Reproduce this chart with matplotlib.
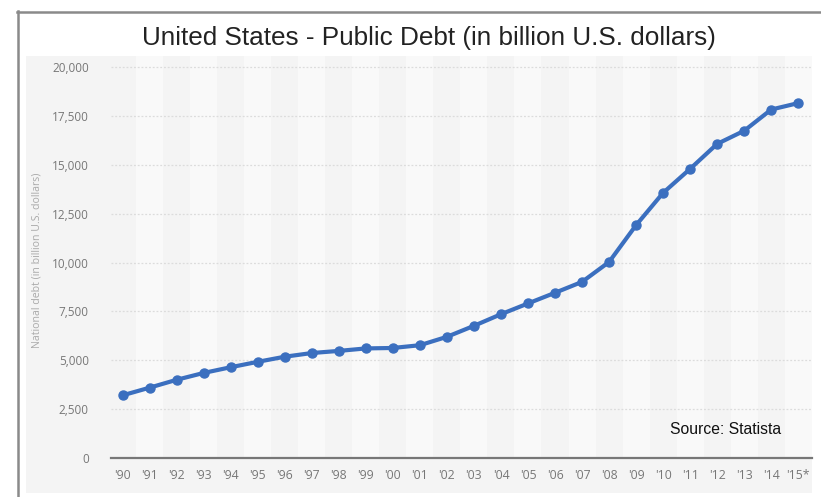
import matplotlib
matplotlib.use("Agg")
import matplotlib.pyplot as plt
from matplotlib.patches import Rectangle
from matplotlib.lines import Line2D
from matplotlib.ticker import FuncFormatter

years = ["'90", "'91", "'92", "'93", "'94", "'95", "'96", "'97", "'98", "'99",
         "'00", "'01", "'02", "'03", "'04", "'05", "'06", "'07", "'08", "'09",
         "'10", "'11", "'12", "'13", "'14", "'15*"]
debt = [3206, 3598, 4001, 4351, 4643, 4920, 5181, 5369, 5478, 5605,
        5628, 5769, 6198, 6760, 7354, 7905, 8451, 9008, 10025, 11910,
        13562, 14790, 16066, 16738, 17824, 18153]
yticks = [0, 2500, 5000, 7500, 10000, 12500, 15000, 17500, 20000]

W, H = 821, 497
fig = plt.figure(figsize=(W / 100, H / 100), dpi=100)
fig.patch.set_facecolor("white")

def fx(px):
    return px / W

def fy(py):
    return 1 - py / H

# frame lines
fig.add_artist(Line2D([fx(18), fx(18)], [fy(11), fy(497)], color="#8a8a8a", lw=1.8))
fig.add_artist(Line2D([fx(17), fx(821)], [fy(12), fy(12)], color="#8a8a8a", lw=1.8))
# panel background
fig.add_artist(Rectangle((fx(26), fy(493)), fx(812) - fx(26), fy(56) - fy(493),
                         transform=fig.transFigure, facecolor="#f4f4f4", edgecolor="none", zorder=0))

ax_left, ax_right, ax_bot, ax_top = 111, 812, 458, 56
ymax = 20000 * (458 - 56) / (458 - 67)
ax = fig.add_axes([fx(ax_left), fy(ax_bot), fx(ax_right) - fx(ax_left), fy(ax_top) - fy(ax_bot)])
ax.set_facecolor("none")
n = len(years)
x = list(range(n))
ax.set_xlim(-0.43, n - 1 + 0.51)
ax.set_ylim(0, ymax)

for i in x:
    if i % 2 == 1:
        ax.axvspan(i - 0.5, i + 0.5, color="#f9f9f9", zorder=0, lw=0)

for t in yticks[1:]:
    ax.axhline(t, color="#dcdcdc", lw=0.9, ls=(0, (1.5, 1.5)), zorder=1)

ax.plot(x, debt, color="#3b6fbf", lw=3.0, marker="o", markersize=6.5, zorder=3,
        solid_capstyle="round")

for s in ["top", "right", "left"]:
    ax.spines[s].set_visible(False)
ax.spines["bottom"].set_color("#777777")
ax.spines["bottom"].set_linewidth(1.6)

ax.set_yticks(yticks)
ax.yaxis.set_major_formatter(FuncFormatter(lambda v, p: f"{int(v):,}"))
ax.set_xticks(x)
ax.set_xticklabels(years)
ax.tick_params(axis="y", length=0, pad=16, labelsize=8.5, labelcolor="#777777")
ax.tick_params(axis="x", length=0, pad=8, labelsize=8.8, labelcolor="#777777")
for lab in ax.get_xticklabels() + ax.get_yticklabels():
    lab.set_fontfamily("Open Sans")

fig.text(fx(37), fy(260), "National debt (in billion U.S. dollars)", rotation=90,
         ha="center", va="center", fontsize=7.6, color="#aaaaaa", family="Open Sans")

fig.text(fx(429), fy(38), "United States - Public Debt (in billion U.S. dollars)",
         ha="center", va="center", fontsize=18.8, color="#222222", family="Liberation Sans")

fig.text(fx(670), fy(430), "Source: Statista", ha="left", va="center",
         fontsize=11.3, color="#111111", family="Liberation Sans")

fig.savefig("out.png", dpi=100, facecolor="white")
